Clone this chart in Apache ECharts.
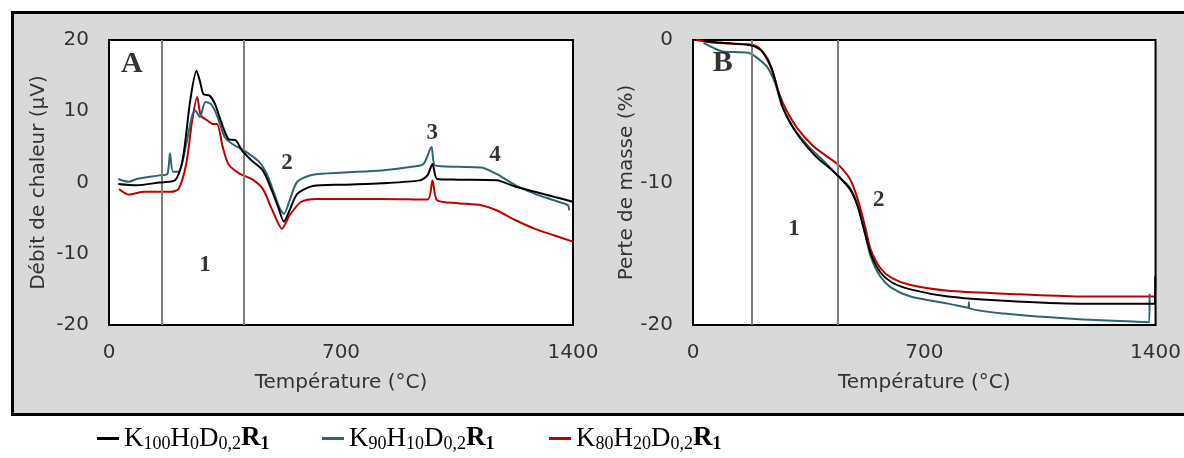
<!DOCTYPE html>
<html>
<head>
<meta charset="utf-8">
<script src="https://cdn.jsdelivr.net/npm/echarts@6/dist/echarts.min.js"></script>
<style>
html,body{margin:0;padding:0;background:#fff;}
#c{width:1184px;height:458px;}
</style>
</head>
<body>
<div id="c"></div>
<script>
// ---------- DATA ----------
const seriesNames = ['K100H0D0,2R1', 'K90H10D0,2R1', 'K80H20D0,2R1'];
const legendParts = [
  [['K','100'],['H','0'],['D','0,2']],
  [['K','90'],['H','10'],['D','0,2']],
  [['K','80'],['H','20'],['D','0,2']]
];
const xTicks = [0, 700, 1400];
const yTicksA = [-20, -10, 0, 10, 20];
const yTicksB = [-20, -10, 0];

// Panel A: heat flow (µV) vs temperature (°C)
const dscK100 = [[28,-0.2],[83,-0.4],[152,0.0],[199,0.3],[222,3.1],[245,11.5],[264,15.7],[274,14.3],[285,12.4],[303,12.2],[320,11.0],[337,8.7],[360,6.1],[383,5.9],[401,4.5],[430,3.1],[464,1.7],[487,-0.6],[510,-3.4],[528,-5.5],[545,-3.9],[568,-1.6],[615,-0.5],[707,-0.3],[822,-0.1],[938,0.3],[961,1.0],[976,2.6],[990,0.5],[1053,0.4],[1169,0.3],[1227,-0.6],[1285,-1.3],[1342,-2.0],[1400,-2.7]];
const dscK90 = [[28,0.5],[60,0.1],[83,0.5],[152,1.0],[176,1.2],[184,4.1],[193,1.5],[210,1.5],[233,5.4],[251,9.4],[260,10.1],[274,9.2],[291,11.3],[308,11.0],[326,9.4],[349,6.4],[372,5.4],[407,4.5],[453,2.9],[476,1.2],[499,-1.6],[516,-3.7],[528,-4.4],[545,-2.5],[568,0.1],[615,1.1],[707,1.4],[822,1.7],[914,2.2],[949,2.6],[973,5.0],[984,2.4],[1053,2.2],[1123,2.1],[1169,1.2],[1227,-0.4],[1285,-1.6],[1342,-2.5],[1385,-3.2],[1388,-3.9]];
const dscK80 = [[30,-0.9],[60,-1.7],[106,-1.3],[187,-1.3],[210,-0.9],[233,2.6],[251,8.7],[266,12.0],[277,9.4],[297,8.7],[314,8.2],[326,8.2],[343,5.0],[360,2.6],[395,1.2],[430,0.5],[464,-0.9],[493,-3.9],[522,-6.5],[545,-4.6],[580,-2.7],[626,-2.3],[822,-2.3],[961,-2.4],[976,0.3],[990,-2.5],[1053,-2.9],[1123,-3.2],[1169,-3.9],[1227,-5.3],[1285,-6.5],[1342,-7.4],[1400,-8.3]];

// Panel B: mass loss (%) vs temperature (°C)
const tgK100 = [[32,-0.05],[89,-0.2],[168,-0.35],[191,-0.5],[214,-0.9],[237,-1.9],[254,-3.3],[271,-4.7],[294,-5.8],[328,-7.0],[373,-8.2],[419,-9.1],[442,-9.6],[476,-10.5],[499,-11.7],[521,-13.6],[538,-15.0],[567,-16.3],[601,-17.0],[658,-17.5],[772,-18.0],[942,-18.3],[1170,-18.5],[1398,-18.5],[1399,-16.6]];
const tgK90 = [[32,-0.2],[66,-0.6],[89,-0.8],[168,-0.9],[191,-1.2],[225,-1.9],[248,-3.0],[271,-4.7],[305,-6.2],[351,-7.5],[396,-8.5],[442,-9.6],[476,-10.4],[499,-11.7],[521,-13.6],[538,-15.2],[567,-16.6],[601,-17.4],[658,-18.0],[772,-18.5],[834,-18.8],[835,-18.4],[836,-18.8],[942,-19.2],[1170,-19.6],[1381,-19.8],[1382,-17.8]];
const tgK80 = [[9,0],[66,-0.2],[168,-0.3],[197,-0.5],[220,-1.2],[242,-2.3],[260,-3.7],[282,-4.9],[316,-6.2],[362,-7.4],[407,-8.2],[442,-8.8],[476,-9.8],[499,-11.2],[521,-13.1],[538,-14.7],[567,-16.0],[601,-16.7],[658,-17.2],[772,-17.6],[942,-17.8],[1170,-18.0],[1400,-18.0]];

// Stage boundaries (°C)
const boundsA = [160, 407];
const boundsB = [177, 438];

// Annotations [text, x, y]
const annotA = [['A',69,16.6],['1',290,-11.6],['2',537,2.7],['3',975,6.9],['4',1165,3.9]];
const annotB = [['B',90,-1.6],['1',306,-13.3],['2',562,-11.2]];

// ---------- STYLE ----------
const colors = ['#000000', '#2e6570', '#c00000'];
const axisFont = {fontFamily:'DejaVu Sans', fontSize:20, color:'#333'};

function legendFormatter(idx){
  return function(){
    let s = '';
    legendParts[idx].forEach(p => { s += '{m|' + p[0] + '}{s|' + p[1] + '}'; });
    s += '{b|R}{bs|1}';
    return s;
  };
}
const legendRich = {
  m:{fontFamily:'Liberation Serif', fontSize:27, color:'#000', lineHeight:30},
  s:{fontFamily:'Liberation Serif', fontSize:18, color:'#000', lineHeight:15, verticalAlign:'bottom'},
  b:{fontFamily:'Liberation Serif', fontSize:27, fontWeight:'bold', color:'#000', lineHeight:30},
  bs:{fontFamily:'Liberation Serif', fontSize:18, fontWeight:'bold', color:'#000', lineHeight:15, verticalAlign:'bottom'}
};
const legendLefts = [92, 317, 544];

function xAxisDef(gi){
  return {
    gridIndex: gi, type:'value', min:0, max:1400, interval:700,
    name:'Température (°C)', nameLocation:'middle', nameGap:48,
    nameTextStyle: axisFont,
    axisLine:{show:false}, axisTick:{show:false}, splitLine:{show:false},
    axisLabel:Object.assign({margin:18, customValues: xTicks, formatter: v => String(v)}, axisFont)
  };
}
function yAxisDef(gi, min, max, name, gap, ticks){
  return {
    gridIndex: gi, type:'value', min:min, max:max, interval:10,
    name:name, nameLocation:'middle', nameGap:gap,
    nameTextStyle: axisFont,
    axisLine:{show:false}, axisTick:{show:false}, splitLine:{show:false},
    axisLabel:Object.assign({margin:20, customValues: ticks, formatter: v => String(v)}, axisFont)
  };
}
function lineSeries(name, data, idx, gi, bounds){
  const s = {
    name:name, type:'line', xAxisIndex:gi, yAxisIndex:gi, data:data,
    showSymbol:false, symbol:'none', smooth:0.25,
    lineStyle:{color:colors[idx], width:2}, itemStyle:{color:colors[idx]},
    z: 5 - idx
  };
  if (bounds){
    s.markLine = {
      silent:true, symbol:'none', label:{show:false},
      lineStyle:{color:'#7f7f7f', width:2, type:'solid'},
      data: bounds.map(v => ({xAxis:v}))
    };
  }
  return s;
}
function annotSeries(gi, arr){
  return {
    type:'scatter', xAxisIndex:gi, yAxisIndex:gi, symbolSize:1,
    itemStyle:{color:'rgba(0,0,0,0)'}, silent:true, z:10,
    data: arr.map(a => ({name:a[0], value:[a[1], a[2]],
      label:{show:true, position:'inside', formatter:a[0],
        fontFamily:'Liberation Serif', fontWeight:'bold', color:'#000',
        fontSize: (a[0]==='A'||a[0]==='B') ? 30 : 23}}))
  };
}

const chart = echarts.init(document.getElementById('c'), null, {renderer:'canvas'});
const option = {
  backgroundColor:'#ffffff',
  animation:false,
  graphic:[
    {type:'rect', z:-100, silent:true,
     shape:{x:12, y:12, width:1180, height:403},
     style:{fill:'#d9d9d9'}},
    {type:'polyline', z:-99, silent:true,
     shape:{points:[[1190,12.5],[12.5,12.5],[12.5,414.5],[1190,414.5]]},
     style:{stroke:'#000', lineWidth:3, fill:null}}
  ],
  grid:[
    {left:109, top:40, width:464, height:285, show:true, backgroundColor:'#fff', borderColor:'#000', borderWidth:2},
    {left:693, top:40, width:466, height:285, show:true, backgroundColor:'#fff', borderColor:'#000', borderWidth:2}
  ],
  xAxis:[xAxisDef(0), xAxisDef(1)],
  yAxis:[
    yAxisDef(0, -20, 20, 'Débit de chaleur (µV)', 60, yTicksA),
    yAxisDef(1, -20, 0, 'Perte de masse (%)', 56, yTicksB)
  ],
  legend: seriesNames.map((n, i) => ({
    data:[n], left:legendLefts[i], top:420, itemWidth:22, itemHeight:3, icon:'rect',
    itemGap:10, formatter:legendFormatter(i), textStyle:{rich:legendRich}
  })),
  series:[
    lineSeries(seriesNames[0], dscK100, 0, 0, boundsA),
    lineSeries(seriesNames[1], dscK90, 1, 0),
    lineSeries(seriesNames[2], dscK80, 2, 0),
    lineSeries(seriesNames[0], tgK100, 0, 1, boundsB),
    lineSeries(seriesNames[1], tgK90, 1, 1),
    lineSeries(seriesNames[2], tgK80, 2, 1),
    annotSeries(0, annotA),
    annotSeries(1, annotB)
  ]
};
chart.setOption(option);
</script>
</body>
</html>
